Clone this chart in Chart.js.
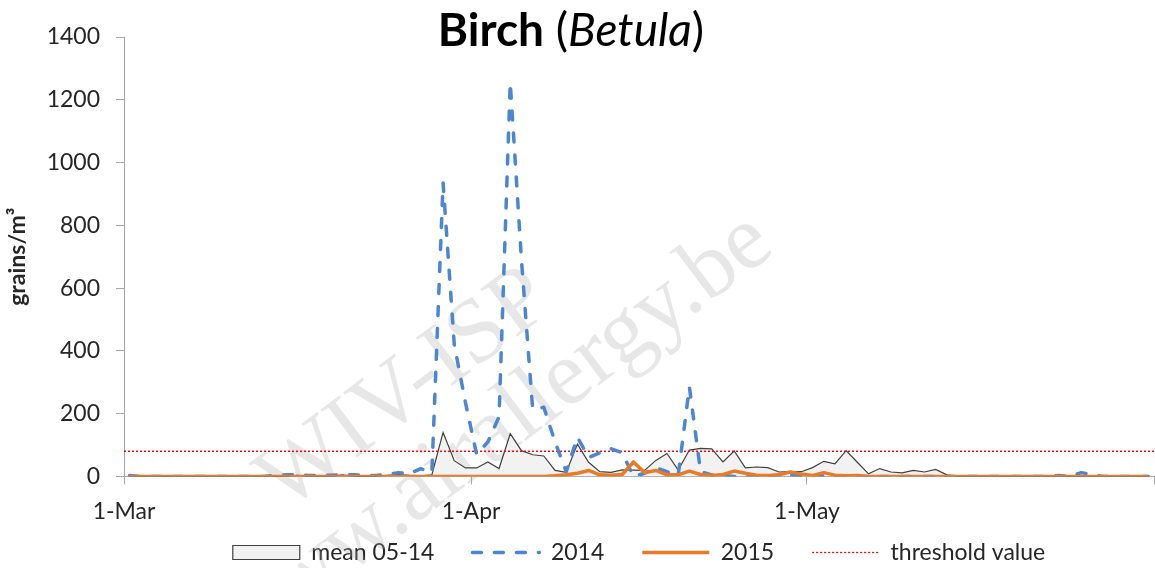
<!DOCTYPE html>
<html><head><meta charset="utf-8">
<script src="https://cdn.jsdelivr.net/npm/chart.js@4"></script>
<style>html,body{margin:0;padding:0;background:#fff;} #wrap{width:1155px;height:568px;position:relative;}</style>
</head><body><div id="wrap"><canvas id="c" width="1155" height="568"></canvas></div>
<script>
// ---- data (one value per day, 1-Mar .. 31-May) ----
const xTickDays = [0, 31, 61, 92];
const xTickLabels = ['1-Mar', '1-Apr', '1-May', ''];
const yMin = 0, yMax = 1400, yStep = 200;
const seriesNames = ['mean 05-14', '2014', '2015', 'threshold value'];
const thresholdValue = 80;

const mean0514 = [
  0,0,0,0,0,0,0,0,0,0, 0,0,0,0,0,3,0,0,0,5, 0,0,0,3,6,3,2,5,140,50,
  27,27,46,25,136,82,69,65,19,13, 103,45,15,13,21,20,19,51,73,20, 84,89,88,46,81,27,30,28,14,15,
  15,28,48,40,82,45,8,25,14,11, 19,14,22,5,0,0,0,0,0,0, 0,0,0,0,0,0,0,0,0,0, 0,0
];
const pollen2014 = [
  3,0,0,0,0,0,0,0,0,0, 0,0,0,3,5,5,3,2,4,5, 5,3,3,6,12,8,25,12,935,420,
  235,70,110,190,1255,690,215,220,110,15, 125,60,75,88,75,0,10,28,15,3, 285,15,5,3,0,0,0,0,3,4,
  3,0,2,0,0,0,0,0,0,0, 0,0,0,0,0,0,0,0,0,0, 0,0,0,3,0,12,5,0,0,0, 0,0
];
const pollen2015 = [
  0,0,0,0,0,0,0,0,0,0, 0,0,0,0,0,0,0,0,0,0, 0,0,0,0,0,0,0,0,0,0,
  0,0,0,0,0,0,0,0,2,5, 10,19,5,4,6,46,12,19,5,5, 17,6,3,6,17,10,4,3,5,14,
  8,3,12,4,2,3,0,0,0,0, 0,0,0,0,0,0,0,0,0,0, 0,0,0,0,0,0,0,0,0,0, 0,0
];

const toPoints = arr => arr.map((v, i) => ({x: i + 0.5, y: v}));

Chart.defaults.font.family = 'Lato, "Liberation Sans", sans-serif';
Chart.defaults.color = '#262626';

const titlePlugin = {
  id: 'mixedTitle',
  afterDraw(chart) {
    const ctx = chart.ctx;
    const parts = [
      {t: 'Birch', f: 'bold 46px Lato'},
      {t: ' (', f: '46px Lato'},
      {t: 'Betula', f: 'italic 46px Lato'},
      {t: ')', f: '46px Lato'}
    ];
    ctx.save();
    let w = 0;
    parts.forEach(p => { ctx.font = p.f; p.w = ctx.measureText(p.t).width; w += p.w; });
    let x = 571 - w / 2;
    ctx.fillStyle = '#000';
    ctx.textBaseline = 'alphabetic';
    parts.forEach(p => { ctx.font = p.f; ctx.fillText(p.t, x, 46); x += p.w; });
    ctx.restore();
  }
};

const watermarkPlugin = {
  id: 'watermark',
  beforeDatasetsDraw(chart) {
    const ctx = chart.ctx;
    ctx.save();
    ctx.translate(420, 410);
    ctx.rotate(-37 * Math.PI / 180);
    ctx.font = '92px "Liberation Serif", serif';
    ctx.fillStyle = 'rgba(170,170,170,0.28)';
    ctx.textAlign = 'center';
    ctx.textBaseline = 'alphabetic';
    ctx.fillText('WIV-ISP', 0, 0);
    ctx.fillText('www.airallergy.be', 45, 88);
    ctx.restore();
  }
};

// lift the bottom legend so it sits just under the x-axis labels (box grows upward, bottom unchanged)
const legendShiftPlugin = {
  id: 'legendShift',
  afterLayout(chart) {
    const lg = chart.legend;
    if (lg) { lg.top -= 35; lg.height += 35; }
  }
};

const legendStyles = [
  {pointStyle: 'rect', fillStyle: '#f2f2f2', strokeStyle: '#404040', lineWidth: 1.2, lineDash: []},
  {pointStyle: 'line', fillStyle: '#4a86d4', strokeStyle: '#4a86d4', lineWidth: 3.5, lineDash: [9, 13], lineCap: 'round'},
  {pointStyle: 'line', fillStyle: '#ec7a24', strokeStyle: '#ec7a24', lineWidth: 3.5, lineDash: []},
  {pointStyle: 'line', fillStyle: '#ff0000', strokeStyle: '#ff0000', lineWidth: 1.3, lineDash: [2, 2]}
];

new Chart(document.getElementById('c'), {
  type: 'line',
  data: {
    datasets: [
      {label: seriesNames[0], data: toPoints(mean0514), borderColor: '#404040', backgroundColor: '#f2f2f2',
       borderWidth: 1.2, fill: 'origin', pointRadius: 0, order: 3, tension: 0},
      {label: seriesNames[1], data: toPoints(pollen2014), borderColor: '#4a86d4', backgroundColor: '#4a86d4',
       borderWidth: 3.5, borderDash: [9, 13], borderCapStyle: 'round', borderJoinStyle: 'round',
       fill: false, pointRadius: 0, order: 1, tension: 0},
      {label: seriesNames[2], data: toPoints(pollen2015), borderColor: '#ec7a24', backgroundColor: '#ec7a24',
       borderWidth: 3.5, borderJoinStyle: 'round', fill: false, pointRadius: 0, order: 0, tension: 0},
      {label: seriesNames[3], data: [{x: xTickDays[0], y: thresholdValue}, {x: xTickDays[3], y: thresholdValue}],
       borderColor: '#ff0000', backgroundColor: '#ff0000', borderWidth: 1.5, borderDash: [2, 2],
       fill: false, pointRadius: 0, order: 2}
    ]
  },
  options: {
    responsive: false,
    animation: false,
    devicePixelRatio: 1,
    layout: {padding: {top: 37, right: 1, left: 0, bottom: 0}},
    plugins: {
      title: {display: false},
      tooltip: {enabled: false},
      legend: {
        position: 'bottom',
        fullSize: false,
        maxHeight: 30,
        labels: {
          usePointStyle: true, pointStyleWidth: 67, boxHeight: 14, padding: 38,
          font: {size: 23}, color: '#262626',
          sort: (a, b) => a.datasetIndex - b.datasetIndex,
          generateLabels: ch => ch.data.datasets.map((ds, i) => Object.assign({
            text: ds.label, datasetIndex: i, hidden: false, fontColor: '#262626'
          }, legendStyles[i]))
        }
      }
    },
    scales: {
      x: {
        type: 'linear', min: xTickDays[0], max: xTickDays[3],
        afterBuildTicks: s => { s.ticks = xTickDays.map(v => ({value: v})); },
        afterFit: s => { s.paddingRight = 1; },
        ticks: {
          autoSkip: false, maxRotation: 0, padding: 13, font: {size: 23}, color: '#262626',
          callback: v => { const k = xTickDays.indexOf(v); return k >= 0 ? xTickLabels[k] : ''; }
        },
        grid: {drawOnChartArea: false, tickLength: 8, color: '#a6a6a6'},
        border: {color: '#a6a6a6'}
      },
      y: {
        min: yMin, max: yMax,
        afterFit: s => { s.width = 124; },
        ticks: {stepSize: yStep, padding: 16, font: {size: 23}, color: '#262626', callback: v => String(v)},
        grid: {drawOnChartArea: false, tickLength: 8, color: '#a6a6a6'},
        border: {color: '#a6a6a6'},
        title: {display: true, text: 'grains/m³', font: {size: 23, weight: 'bold'}, color: '#262626', padding: {top: 4, bottom: 0}}
      }
    }
  },
  plugins: [watermarkPlugin, titlePlugin, legendShiftPlugin]
});
</script>
</body></html>
